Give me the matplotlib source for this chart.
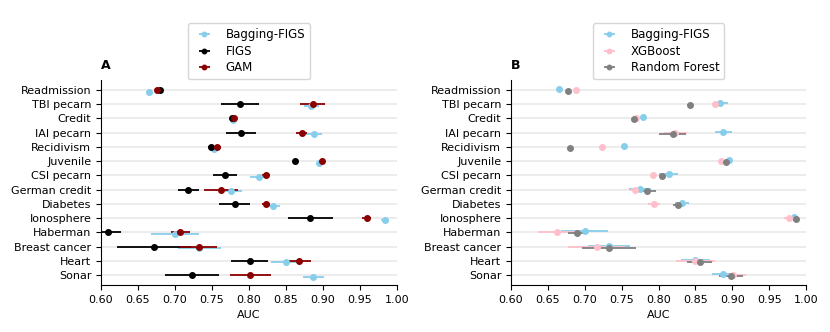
import matplotlib
matplotlib.use("Agg")
import matplotlib.pyplot as plt
import numpy as np

datasets = ["Readmission", "TBI pecarn", "Credit", "IAI pecarn", "Recidivism", "Juvenile",
            "CSI pecarn", "German credit", "Diabetes", "Ionosphere", "Haberman",
            "Breast cancer", "Heart", "Sonar"]

bag_mean = [0.665, 0.884, 0.779, 0.888, 0.753, 0.895, 0.814, 0.775, 0.832, 0.984, 0.700, 0.733, 0.850, 0.887]
bag_err  = [0.001, 0.010, 0.002, 0.011, 0.004, 0.002, 0.013, 0.015, 0.010, 0.005, 0.032, 0.029, 0.020, 0.014]
figs_mean = [0.680, 0.788, 0.777, 0.789, 0.749, 0.862, 0.768, 0.718, 0.781, 0.883, 0.609, 0.672, 0.801, 0.723]
figs_err  = [0.002, 0.026, 0.002, 0.020, 0.005, 0.002, 0.016, 0.014, 0.021, 0.030, 0.018, 0.050, 0.025, 0.037]
gam_mean = [0.676, 0.886, 0.780, 0.871, 0.757, 0.899, 0.823, 0.762, 0.823, 0.959, 0.707, 0.732, 0.867, 0.802]
gam_err  = [0.002, 0.017, 0.002, 0.008, 0.005, 0.002, 0.006, 0.023, 0.006, 0.006, 0.013, 0.025, 0.017, 0.028]
xgb_mean = [0.688, 0.876, 0.769, 0.823, 0.724, 0.885, 0.792, 0.768, 0.794, 0.977, 0.662, 0.716, 0.850, 0.901]
xgb_err  = [0.001, 0.004, 0.002, 0.015, 0.004, 0.002, 0.004, 0.006, 0.008, 0.007, 0.026, 0.039, 0.026, 0.017]
rf_mean = [0.677, 0.843, 0.767, 0.819, 0.680, 0.891, 0.805, 0.784, 0.826, 0.987, 0.690, 0.733, 0.856, 0.898]
rf_err  = [0.001, 0.004, 0.002, 0.018, 0.004, 0.002, 0.005, 0.012, 0.006, 0.004, 0.013, 0.037, 0.017, 0.016]

xticks = [0.60, 0.65, 0.70, 0.75, 0.80, 0.85, 0.90, 0.95, 1.00]

fig = plt.figure(figsize=(8.3, 3.32), dpi=100)
axA = fig.add_axes([0.1217, 0.1416, 0.3566, 0.6175])
axB = fig.add_axes([0.6157, 0.1416, 0.3554, 0.6175])

y = np.arange(len(datasets))

def panel(ax, series, title):
    for i in y:
        ax.axhline(i, color="#ebebeb", lw=1.3, zorder=0)
    for (name, m, e, c, off) in series:
        ax.errorbar(m, y + off, xerr=e, fmt="o", color=c, ecolor=c, markersize=4,
                    elinewidth=1.3, capsize=0, label=name, zorder=3)
    ax.set_yticks(y)
    ax.set_yticklabels(datasets, fontsize=8)
    ax.set_ylim(len(datasets) - 0.3, -0.7)
    ax.set_xlim(0.60, 1.00)
    ax.set_xticks(xticks)
    ax.set_xticklabels([f"{t:.2f}" for t in xticks], fontsize=8)
    ax.set_xlabel("AUC", fontsize=8)
    ax.spines["top"].set_visible(False)
    ax.spines["right"].set_visible(False)
    ax.set_title(title, loc="left", fontweight="bold", fontsize=9, pad=8)
    ax.legend(loc="lower center", bbox_to_anchor=(0.5, 1.005), borderaxespad=0,
              fontsize=8.5, frameon=True, handlelength=2.0, markerscale=0.8,
              labelspacing=0.3)

panel(axA, [("Bagging-FIGS", bag_mean, bag_err, "#87CEEB", 0.12),
            ("FIGS", figs_mean, figs_err, "black", 0.0),
            ("GAM", gam_mean, gam_err, "#8B0000", 0.0)], "A")
panel(axB, [("Bagging-FIGS", bag_mean, bag_err, "#87CEEB", -0.07),
            ("XGBoost", xgb_mean, xgb_err, "#FFC0CB", 0.0),
            ("Random Forest", rf_mean, rf_err, "#808080", 0.07)], "B")

fig.savefig("out.png", dpi=100)
